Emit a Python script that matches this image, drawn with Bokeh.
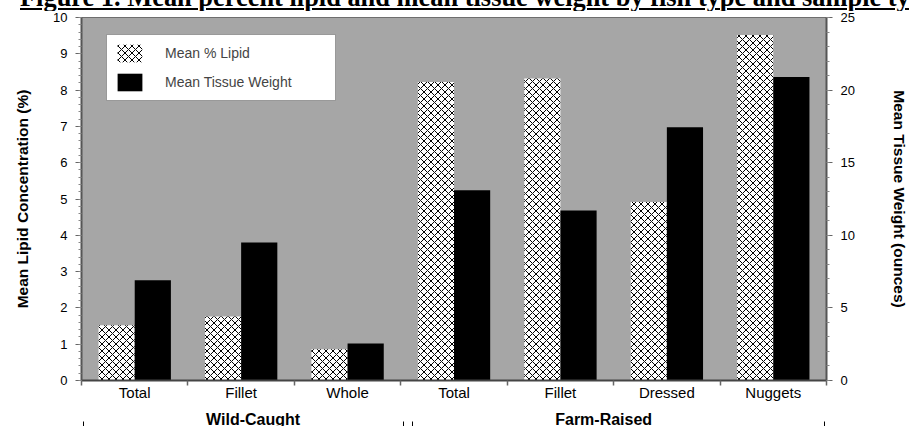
import numpy as np
from bokeh.plotting import figure
from bokeh.layouts import column
from bokeh.models import (Range1d, LinearAxis, FixedTicker, SingleIntervalTicker,
                          ColumnDataSource, Legend, LegendItem, Div)
from bokeh.transform import dodge
from bokeh.embed import file_html
from bokeh.resources import INLINE

# ---- data ----
title_text = "Figure 1. Mean percent lipid and mean tissue weight by fish type and sample type"
groups = ["Wild-Caught", "Wild-Caught", "Wild-Caught",
          "Farm-Raised", "Farm-Raised", "Farm-Raised", "Farm-Raised"]
samples = ["Total", "Fillet", "Whole", "Total", "Fillet", "Dressed", "Nuggets"]
lipid = [1.52, 1.76, 0.86, 8.22, 8.32, 4.92, 9.52]          # Mean % lipid (left axis)
weight = [6.9, 9.5, 2.55, 13.1, 11.7, 17.45, 20.9]          # Mean tissue weight, ounces (right axis)
series_names = ["Mean % Lipid", "Mean Tissue Weight"]
left_title = "Mean Lipid Concentration (%)"
right_title = "Mean Tissue Weight (ounces)"

n = len(samples)
xc = np.arange(n) + 0.5

W = 910
HD = 28                      # title strip height
H = 419
FL, FR = 81, 828             # frame left/right (px)
FT, FB = 6, 369              # frame top/bottom inside the figure canvas
fw, fh = FR - FL, FB - FT
px_x = fw / n

SANS = "Liberation Sans"

title = Div(text=('<div style="font-family: \'Liberation Serif\'; font-weight: bold; '
                  'font-size: 26.4px; line-height: 28px; white-space: nowrap; '
                  'text-decoration: underline; text-decoration-thickness: 2px; '
                  'text-underline-offset: 2px; padding-left: 20px; color: black;">'
                  + title_text + '</div>'),
            width=W, height=HD, margin=0, styles={"overflow": "hidden"})

p = figure(width=W, height=H, x_range=Range1d(0, n), y_range=Range1d(0, 10),
           output_backend="svg", toolbar_location=None, margin=0,
           min_border_left=FL, min_border_right=W - FR,
           min_border_top=FT, min_border_bottom=H - FB)
p.background_fill_color = "#a6a6a6"
p.border_fill_color = "white"
p.border_fill_alpha = 0
p.outline_line_color = "#6e6e6e"
p.outline_line_width = 1
p.grid.visible = False

src = ColumnDataSource(dict(x=xc, lipid=lipid, weight=weight, sample=samples, group=groups))
p.extra_y_ranges = {"w": Range1d(0, 25)}

r1 = p.vbar(x=dodge("x", -0.17), top="lipid", width=0.34, source=src,
            fill_color="white", line_color=None, hatch_pattern="x",
            hatch_color="black", hatch_scale=7, hatch_weight=1.0)
r2 = p.vbar(x=dodge("x", 0.17), top="weight", width=0.34, source=src,
            fill_color="black", line_color=None, y_range_name="w")

# x axis (sample types)
xa = p.xaxis[0]
xa.ticker = FixedTicker(ticks=list(xc), minor_ticks=list(range(n + 1)))
xa.major_label_overrides = {float(v): s for v, s in zip(xc, samples)}
xa.major_tick_out = 0
xa.major_tick_in = 0
xa.minor_tick_out = 5
xa.minor_tick_in = 0
xa.major_label_standoff = -2
xa.major_label_text_font = SANS
xa.major_label_text_font_size = "15px"
xa.major_label_text_color = "black"
xa.axis_line_color = "#444444"
xa.axis_line_width = 2
xa.minor_tick_line_color = "#666666"
xa.minor_tick_line_width = 1.5

# second x axis (fish types with bracket marks)
group_names = list(dict.fromkeys(groups))
label_shift = {group_names[0]: 12, group_names[1]: -10}   # px
mark_in = {group_names[0]: (2, 3), group_names[1]: (12, -2)}  # px
g_label_pos, g_marks = [], []
for g in group_names:
    idx = [i for i, gg in enumerate(groups) if gg == g]
    g0, g1 = idx[0], idx[-1] + 1
    g_label_pos.append((g0 + g1) / 2 + label_shift[g] / px_x)
    a, b = mark_in[g]
    g_marks += [g0 + a / px_x, g1 + b / px_x]
ga = LinearAxis(ticker=FixedTicker(ticks=g_label_pos, minor_ticks=g_marks))
ga.major_label_overrides = {float(v): g for v, g in zip(g_label_pos, group_names)}
ga.axis_line_color = None
ga.major_tick_out = 0
ga.major_tick_in = 0
ga.minor_tick_in = -18
ga.minor_tick_out = 26
ga.minor_tick_line_color = "black"
ga.minor_tick_line_width = 1
ga.major_label_standoff = -19
ga.major_label_text_font = SANS
ga.major_label_text_font_style = "bold"
ga.major_label_text_font_size = "16px"
ga.major_label_text_color = "black"
p.add_layout(ga, "below")

# left axis
ya = p.yaxis[0]
ya.ticker = SingleIntervalTicker(interval=1, num_minor_ticks=5)
ya.axis_label = left_title
ya.axis_label_standoff = 19
ya.major_label_standoff = 8

ra = LinearAxis(y_range_name="w", ticker=SingleIntervalTicker(interval=5, num_minor_ticks=5),
                axis_label=right_title)
ra.axis_label_orientation = "vertical"
ra.axis_label_standoff = 33
ra.major_label_standoff = 8
p.add_layout(ra, "right")

for ax in (ya, ra):
    ax.major_tick_out = 6
    ax.major_tick_in = 0
    ax.minor_tick_out = 3
    ax.minor_tick_in = 0
    ax.major_label_text_font = SANS
    ax.major_label_text_font_size = "13px"
    ax.major_label_text_color = "black"
    ax.axis_line_color = "#555555"
    ax.axis_line_width = 2
    ax.major_tick_line_color = "#666666"
    ax.minor_tick_line_color = "#888888"
    ax.axis_label_text_color = "black"
    ax.axis_label_text_font = SANS
    ax.axis_label_text_font_style = "bold"
    ax.axis_label_text_font_size = "15.5px"

# legend
legend = Legend(items=[LegendItem(label=series_names[0], renderers=[r1]),
                       LegendItem(label=series_names[1], renderers=[r2])],
                location=(25, fh - 19 - 65))
legend.label_text_font = SANS
legend.label_text_font_size = "14px"
legend.label_width = 163
legend.glyph_width = 31
legend.glyph_height = 22
legend.spacing = 7
legend.padding = 7
legend.margin = 0
legend.label_standoff = 20
legend.border_line_color = "#333333"
legend.border_line_width = 1.5
legend.background_fill_color = "white"
legend.background_fill_alpha = 1
p.add_layout(legend)

layout = column(title, p, spacing=0, margin=0,
                styles={"margin-top": "-17px", "margin-bottom": "-4px"})
open("out.html", "w").write(file_html(layout, INLINE))
